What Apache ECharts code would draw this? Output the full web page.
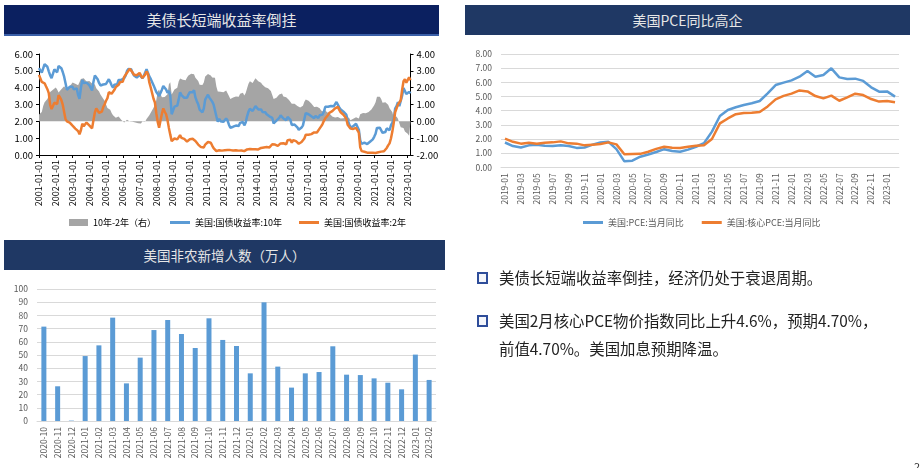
<!DOCTYPE html>
<html>
<head>
<meta charset="utf-8">
<script src="https://cdn.jsdelivr.net/npm/echarts@6/dist/echarts.min.js"></script>
<style>
body{margin:0;background:#fff;font-family:"Noto Sans CJK SC",sans-serif;}
#page{position:relative;width:921px;height:468px;overflow:hidden;}
#main{position:absolute;left:0;top:0;width:921px;height:468px;}
.bar{position:absolute;height:30px;line-height:30px;color:#e6e6e6;text-align:center;z-index:2;}
.note{position:absolute;left:476px;z-index:2;color:#222;font-size:15.4px;line-height:28px;}
.note .box{position:absolute;left:1px;top:9px;width:7px;height:8px;border:2px solid #2e4d9a;background:#f4f6fb;}
.note .txt{margin-left:23px;white-space:nowrap;}
.pg{position:absolute;right:1px;bottom:-6px;font-size:11px;color:#333;}
</style>
</head>
<body>
<div id="page">
  <div id="main"></div>
  <div class="bar" style="left:4px;top:5px;width:435px;background:#0b2060;border-bottom:2px solid #3a5fa8;height:29px;font-size:15px;">美债长短端收益率倒挂</div>
  <div class="bar" style="left:465px;top:5px;width:445px;background:#1f3864;font-size:14px;">美国PCE同比高企</div>
  <div class="bar" style="left:4px;top:240px;width:441px;background:#1f3864;font-size:13.5px;">美国非农新增人数（万人）</div>
  <div class="note" style="top:263px"><div class="box"></div><div class="txt">美债长短端收益率倒挂，经济仍处于衰退周期。</div></div>
  <div class="note" style="top:306px"><div class="box"></div><div class="txt">美国2月核心PCE物价指数同比上升4.6%，预期4.70%，<br>前值4.70%。美国加息预期降温。</div></div>
  <span class="pg">2</span>
</div>
<script>
// 美债收益率，月度，2001-01 ~ 2023-03
var months = [];
for (var yr = 2001; yr <= 2023; yr++) {
  for (var m = 1; m <= 12; m++) {
    if (yr == 2023 && m > 3) break;
    months.push(yr + '-' + (m < 10 ? '0' + m : m) + '-01');
  }
}

var y10 = [
  5.16,5.10,4.89,5.14,5.39,5.28,5.24,4.97,4.73,4.57,4.65,5.09, // 2001
  5.04,4.91,5.28,5.21,5.16,4.93,4.65,4.26,3.87,3.94,4.05,4.03, // 2002
  4.05,3.90,3.81,3.96,3.57,3.33,3.98,4.45,4.27,4.29,4.30,4.27, // 2003
  4.15,4.08,3.83,4.35,4.72,4.73,4.50,4.28,4.13,4.10,4.19,4.23, // 2004
  4.22,4.17,4.50,4.34,4.14,4.00,4.18,4.26,4.20,4.46,4.54,4.47, // 2005
  4.42,4.57,4.72,4.99,5.11,5.11,5.09,4.88,4.72,4.73,4.60,4.56, // 2006
  4.76,4.72,4.56,4.69,4.75,5.10,5.00,4.67,4.52,4.53,4.15,4.10, // 2007
  3.74,3.74,3.51,3.68,3.88,4.10,4.01,3.89,3.69,3.81,3.53,2.42, // 2008
  2.52,2.87,2.82,2.93,3.29,3.72,3.56,3.59,3.40,3.39,3.40,3.59, // 2009
  3.73,3.69,3.73,3.85,3.42,3.20,3.01,2.70,2.65,2.54,2.76,3.29, // 2010
  3.39,3.58,3.41,3.46,3.17,3.00,3.00,2.30,1.98,2.15,2.01,1.98, // 2011
  1.97,1.97,2.17,2.05,1.80,1.62,1.53,1.68,1.72,1.75,1.65,1.72, // 2012
  1.91,1.98,1.96,1.76,1.93,2.30,2.58,2.74,2.81,2.62,2.72,2.90, // 2013
  2.86,2.71,2.72,2.71,2.56,2.60,2.54,2.42,2.53,2.30,2.33,2.21, // 2014
  1.88,1.98,2.04,1.94,2.20,2.36,2.32,2.17,2.17,2.07,2.26,2.24, // 2015
  2.09,1.78,1.89,1.81,1.81,1.64,1.50,1.56,1.63,1.76,2.14,2.49, // 2016
  2.43,2.42,2.48,2.30,2.30,2.19,2.32,2.21,2.20,2.36,2.35,2.40, // 2017
  2.58,2.86,2.84,2.87,2.98,2.91,2.89,2.89,3.00,3.15,3.12,2.83, // 2018
  2.71,2.68,2.57,2.53,2.40,2.07,2.06,1.63,1.70,1.71,1.81,1.86, // 2019
  1.76,1.50,0.87,0.66,0.67,0.73,0.62,0.65,0.68,0.79,0.87,0.93, // 2020
  1.08,1.26,1.61,1.64,1.62,1.52,1.32,1.28,1.37,1.58,1.56,1.47, // 2021
  1.76,1.93,2.13,2.75,2.90,3.14,2.90,2.90,3.52,3.98,3.89,3.62, // 2022
  3.53,3.75,3.66                                               // 2023
];

var y2 = [
  4.76,4.66,4.34,4.23,4.26,4.08,3.91,3.68,2.98,2.73,2.78,3.11, // 2001
  3.03,3.02,3.56,3.42,3.26,2.99,2.56,2.13,2.00,1.91,1.92,1.84, // 2002
  1.74,1.63,1.57,1.62,1.42,1.23,1.47,1.86,1.71,1.75,1.93,1.91, // 2003
  1.76,1.74,1.58,2.07,2.53,2.76,2.64,2.51,2.53,2.58,2.85,3.01, // 2004
  3.22,3.38,3.73,3.65,3.64,3.64,3.87,4.04,3.95,4.17,4.33,4.39, // 2005
  4.35,4.64,4.74,4.89,4.97,5.12,5.12,4.90,4.77,4.80,4.74,4.67, // 2006
  4.88,4.85,4.57,4.67,4.77,4.96,4.82,4.31,4.01,3.97,3.34,3.12, // 2007
  2.48,1.97,1.62,2.05,2.45,2.77,2.57,2.42,2.08,1.61,1.21,0.82, // 2008
  0.81,0.98,0.93,0.93,0.92,1.18,1.02,1.12,0.96,0.95,0.80,0.87, // 2009
  0.93,0.86,0.96,1.06,0.83,0.72,0.62,0.52,0.47,0.38,0.45,0.62, // 2010
  0.61,0.77,0.70,0.73,0.56,0.41,0.41,0.23,0.21,0.28,0.25,0.26, // 2011
  0.24,0.28,0.34,0.29,0.29,0.29,0.25,0.27,0.26,0.28,0.27,0.26, // 2012
  0.27,0.27,0.26,0.23,0.25,0.33,0.34,0.36,0.40,0.34,0.30,0.34, // 2013
  0.39,0.33,0.40,0.42,0.39,0.45,0.51,0.47,0.57,0.45,0.53,0.64, // 2014
  0.55,0.62,0.64,0.54,0.61,0.69,0.67,0.70,0.71,0.64,0.88,0.98, // 2015
  0.90,0.73,0.88,0.77,0.82,0.73,0.67,0.74,0.77,0.84,0.98,1.20, // 2016
  1.21,1.20,1.31,1.24,1.30,1.34,1.37,1.34,1.38,1.58,1.70,1.84, // 2017
  2.03,2.18,2.28,2.38,2.51,2.53,2.61,2.64,2.77,2.86,2.86,2.68, // 2018
  2.54,2.50,2.39,2.31,2.17,1.80,1.84,1.57,1.65,1.55,1.61,1.61, // 2019
  1.52,1.33,0.45,0.23,0.17,0.19,0.14,0.14,0.13,0.14,0.17,0.13, // 2020
  0.13,0.12,0.15,0.16,0.16,0.20,0.22,0.22,0.24,0.42,0.57,0.69, // 2021
  0.98,1.39,1.91,2.54,2.61,2.99,3.02,3.25,3.86,4.38,4.50,4.29, // 2022
  4.27,4.61,4.44                                               // 2023
];

// 10年-2年 利差（右轴）
var spread = [
  0.40,0.44,0.55,0.91,1.13,1.20,1.33,1.29,1.75,1.84,1.87,1.98,
  2.01,1.89,1.72,1.79,1.90,1.94,2.09,2.13,1.87,2.03,2.13,2.19,
  2.31,2.27,2.24,2.34,2.15,2.10,2.51,2.59,2.56,2.54,2.37,2.36,
  2.39,2.34,2.25,2.28,2.19,1.97,1.86,1.77,1.60,1.52,1.34,1.22,
  1.00,0.79,0.77,0.69,0.50,0.36,0.31,0.22,0.25,0.29,0.21,0.08,
  0.07,-0.07,-0.02,0.10,0.14,-0.01,-0.03,-0.02,-0.05,-0.07,-0.14,-0.11,
  -0.12,-0.13,-0.01,0.02,-0.02,0.14,0.18,0.36,0.51,0.56,0.81,0.98,
  1.26,1.77,1.89,1.63,1.43,1.33,1.44,1.47,1.61,2.20,2.32,1.60,
  1.71,1.89,1.89,2.00,2.37,2.54,2.54,2.47,2.44,2.44,2.60,2.72,
  2.80,2.83,2.77,2.79,2.59,2.48,2.39,2.18,2.18,2.16,2.31,2.67,
  2.78,2.81,2.71,2.73,2.61,2.59,2.59,2.07,1.77,1.87,1.76,1.72,
  1.73,1.69,1.83,1.76,1.51,1.33,1.28,1.41,1.46,1.47,1.38,1.46,
  1.64,1.71,1.70,1.53,1.68,1.97,2.24,2.38,2.41,2.28,2.42,2.56,
  2.47,2.38,2.32,2.29,2.17,2.15,2.03,1.95,1.96,1.85,1.80,1.57,
  1.33,1.36,1.40,1.40,1.59,1.67,1.65,1.47,1.46,1.43,1.38,1.26,
  1.19,1.05,1.01,1.04,0.99,0.91,0.83,0.82,0.86,0.92,1.16,1.29,
  1.22,1.22,1.17,1.06,1.00,0.85,0.95,0.87,0.82,0.78,0.65,0.56,
  0.55,0.68,0.56,0.49,0.47,0.38,0.28,0.25,0.23,0.29,0.26,0.15,
  0.17,0.18,0.18,0.22,0.23,0.27,0.22,0.06,0.05,0.16,0.20,0.25,
  0.24,0.17,0.42,0.43,0.50,0.54,0.48,0.51,0.55,0.65,0.70,0.80,
  0.95,1.14,1.46,1.48,1.46,1.32,1.10,1.06,1.13,1.16,0.99,0.78,
  0.78,0.54,0.22,0.21,0.29,0.15,-0.12,-0.35,-0.34,-0.40,-0.61,-0.67,
  -0.74,-0.86,-0.78
];

// PCE，2019-01 ~ 2023-02
var pceMonths = [];
for (var py = 2019; py <= 2023; py++) {
  for (var pm = 1; pm <= 12; pm++) {
    if (py == 2023 && pm > 2) break;
    pceMonths.push(py + '-' + (pm < 10 ? '0' + pm : pm));
  }
}
var pce = [
  1.75,1.50,1.40,1.55,1.60,1.52,1.50,1.55,1.50,1.37,1.40,1.60,
  1.75,1.80,1.28,0.42,0.47,0.75,0.90,1.08,1.28,1.15,1.10,1.25,
  1.45,1.70,2.52,3.62,4.05,4.24,4.40,4.52,4.68,5.22,5.81,5.98,
  6.14,6.40,6.80,6.40,6.52,6.99,6.35,6.24,6.26,6.10,5.65,5.34,
  5.36,4.99
];
var corePce = [
  2.02,1.80,1.67,1.74,1.67,1.74,1.76,1.83,1.69,1.67,1.55,1.60,
  1.65,1.76,1.62,0.92,0.94,0.95,1.10,1.30,1.45,1.38,1.36,1.45,
  1.52,1.55,2.00,3.10,3.45,3.75,3.84,3.86,3.90,4.30,4.80,5.04,
  5.20,5.43,5.36,5.03,4.87,5.06,4.70,4.94,5.20,5.10,4.82,4.64,
  4.68,4.60
];

// 非农新增（万人）
var nfpMonths = ['2020-10','2020-11','2020-12','2021-01','2021-02','2021-03','2021-04','2021-05',
  '2021-06','2021-07','2021-08','2021-09','2021-10','2021-11','2021-12','2022-01','2022-02',
  '2022-03','2022-04','2022-05','2022-06','2022-07','2022-08','2022-09','2022-10','2022-11',
  '2022-12','2023-01','2023-02'];
var nfp = [71.5,26.3,0.3,49.2,57.3,78.3,28.5,48.0,68.9,76.5,65.9,55.3,77.8,61.4,56.8,36.1,89.9,
  41.2,25.3,36.1,37.1,56.6,35.1,34.8,32.3,29.0,24.0,50.3,31.1];

var fnt = '"Noto Sans CJK SC", sans-serif';
var fix2 = function (v) { return v.toFixed(2); };
var blue = '#5b9bd5', orange = '#ed7d31', gray = '#a5a5a5';

var myChart = echarts.init(document.getElementById('main'));
var option = {
  animation: false,
  textStyle: {fontFamily: fnt},
  grid: [
    {left: 39, right: 510.5, top: 54, bottom: 313, outerBoundsMode: 'none'},
    {left: 501, right: 22, top: 54, bottom: 300.7, outerBoundsMode: 'none'},
    {left: 37, right: 485, top: 289, bottom: 47, outerBoundsMode: 'none'}
  ],
  legend: [
    {
      left: 64, top: 213, itemWidth: 19, itemHeight: 7,
      textStyle: {fontSize: 9, color: '#000', fontFamily: fnt},
      data: [{name: '10年-2年（右）', icon: 'rect'}]
    },
    {
      left: 165, top: 213, itemWidth: 20, itemHeight: 3, itemGap: 17, icon: 'rect',
      textStyle: {fontSize: 9, color: '#000', fontFamily: fnt},
      data: ['美国:国债收益率:10年', '美国:国债收益率:2年']
    },
    {
      left: 578, top: 213, itemWidth: 20, itemHeight: 3, itemGap: 18, icon: 'rect',
      textStyle: {fontSize: 9, color: '#595959', fontFamily: fnt},
      data: ['美国:PCE:当月同比', '美国:核心PCE:当月同比']
    }
  ],
  xAxis: [
    {
      gridIndex: 0, type: 'category', boundaryGap: false, data: months,
      axisLine: {lineStyle: {color: '#000'}},
      axisTick: {interval: 11, length: 3, lineStyle: {color: '#000'}},
      axisLabel: {interval: 11, rotate: 90, fontSize: 9, color: '#000', margin: 5}
    },
    {
      gridIndex: 1, type: 'category', data: pceMonths,
      axisLine: {lineStyle: {color: '#d9d9d9'}},
      axisTick: {show: false},
      axisLabel: {interval: 1, rotate: 90, fontSize: 8.5, color: '#595959', margin: 6}
    },
    {
      gridIndex: 2, type: 'category', data: nfpMonths,
      axisLine: {lineStyle: {color: '#d9d9d9'}},
      axisTick: {show: false},
      axisLabel: {interval: 0, rotate: 90, fontSize: 8.5, color: '#595959', margin: 6}
    }
  ],
  yAxis: [
    {
      gridIndex: 0, min: 0, max: 6, interval: 1,
      axisLine: {show: true, lineStyle: {color: '#000'}},
      axisTick: {show: true, length: 3, lineStyle: {color: '#000'}},
      splitLine: {show: false},
      axisLabel: {formatter: fix2, fontSize: 9.5, color: '#000', margin: 6}
    },
    {
      gridIndex: 0, position: 'right', min: -2, max: 4, interval: 1,
      axisLine: {show: true, lineStyle: {color: '#000'}},
      axisTick: {show: true, length: 3, lineStyle: {color: '#000'}},
      splitLine: {show: false},
      axisLabel: {formatter: fix2, fontSize: 9.5, color: '#000', margin: 6}
    },
    {
      gridIndex: 1, min: 0, max: 8, interval: 1,
      axisLine: {show: false}, axisTick: {show: false},
      splitLine: {lineStyle: {color: '#d9d9d9', width: 1}},
      axisLabel: {formatter: fix2, fontSize: 8.5, color: '#595959', margin: 9}
    },
    {
      gridIndex: 2, min: 0, max: 100, interval: 10,
      axisLine: {show: false}, axisTick: {show: false},
      splitLine: {lineStyle: {color: '#d9d9d9', width: 1}},
      axisLabel: {fontSize: 8.5, color: '#595959', margin: 9}
    }
  ],
  series: [
    {
      name: '10年-2年（右）', type: 'line', xAxisIndex: 0, yAxisIndex: 1, data: spread,
      symbol: 'none', lineStyle: {width: 0}, itemStyle: {color: gray},
      areaStyle: {color: gray, opacity: 1}, z: 1
    },
    {
      name: '美国:国债收益率:10年', type: 'line', xAxisIndex: 0, yAxisIndex: 0, data: y10,
      symbol: 'none', lineStyle: {width: 2.5, color: blue}, itemStyle: {color: blue}, z: 2
    },
    {
      name: '美国:国债收益率:2年', type: 'line', xAxisIndex: 0, yAxisIndex: 0, data: y2,
      symbol: 'none', lineStyle: {width: 2.5, color: orange}, itemStyle: {color: orange}, z: 3
    },
    {
      name: '美国:PCE:当月同比', type: 'line', xAxisIndex: 1, yAxisIndex: 2, data: pce,
      symbol: 'none', lineStyle: {width: 2.5, color: blue}, itemStyle: {color: blue}
    },
    {
      name: '美国:核心PCE:当月同比', type: 'line', xAxisIndex: 1, yAxisIndex: 2, data: corePce,
      symbol: 'none', lineStyle: {width: 2.5, color: orange}, itemStyle: {color: orange}
    },
    {
      name: '非农', type: 'bar', xAxisIndex: 2, yAxisIndex: 3, data: nfp,
      barWidth: 5, itemStyle: {color: blue}
    }
  ]
};
myChart.setOption(option);
</script>
</body>
</html>
